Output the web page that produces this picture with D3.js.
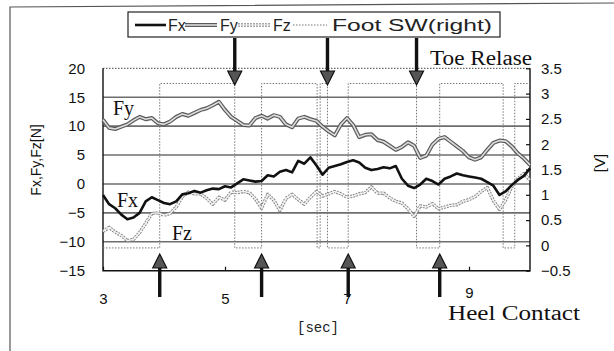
<!DOCTYPE html>
<html>
<head>
<meta charset="utf-8">
<script src="https://cdn.jsdelivr.net/npm/d3@7"></script>
<style>
  body { margin: 0; background: #fff; }
  svg { display: block; }
</style>
</head>
<body>
<svg id="chart" width="614" height="351"></svg>
<script>
// sampled every 0.1 s
const time = [3.0, 3.1, 3.2, 3.3, 3.4, 3.5, 3.6, 3.7, 3.8, 3.9,
  4.0, 4.1, 4.2, 4.3, 4.4, 4.5, 4.6, 4.7, 4.8, 4.9,
  5.0, 5.1, 5.2, 5.3, 5.4, 5.5, 5.6, 5.7, 5.8, 5.9,
  6.0, 6.1, 6.2, 6.3, 6.4, 6.5, 6.6, 6.7, 6.8, 6.9,
  7.0, 7.1, 7.2, 7.3, 7.4, 7.5, 7.6, 7.7, 7.8, 7.9,
  8.0, 8.1, 8.2, 8.3, 8.4, 8.5, 8.6, 8.7, 8.8, 8.9,
  9.0, 9.1, 9.2, 9.3, 9.4, 9.5, 9.6, 9.7, 9.8, 9.9,
  10.0];

const fx = [-1.9, -3.5, -4.2, -5.3, -6.1, -5.8, -5.0, -3.0, -2.3, -2.8,
  -3.3, -3.5, -3.0, -1.8, -1.6, -1.2, -1.5, -1.1, -0.8, -0.9,
  -0.4, -0.6, 0.1, 0.8, 0.6, 0.4, 0.5, 1.5, 1.3, 2.1,
  2.4, 2.0, 4.0, 3.5, 4.6, 3.2, 1.6, 2.8, 3.1, 3.4,
  3.8, 4.1, 3.7, 2.8, 2.4, 2.6, 2.9, 2.7, 3.1, 0.9,
  -0.3, -0.7, -0.1, 0.9, 0.5, -0.1, 0.9, 1.3, 1.8, 1.5,
  1.3, 1.1, 0.9, 0.3, -0.3, -1.9, -1.3, -0.2, 0.7, 1.4,
  2.7];

const fy = [11.1, 9.7, 9.5, 9.9, 10.3, 11.0, 11.6, 11.2, 11.4, 10.5,
  10.3, 10.8, 11.6, 12.1, 11.8, 12.3, 12.8, 13.1, 13.6, 14.2,
  12.8, 11.6, 10.9, 10.2, 10.1, 11.4, 11.8, 11.3, 11.9, 11.6,
  10.3, 9.8, 11.3, 11.6, 11.2, 10.9, 9.9, 9.1, 8.4, 10.3,
  11.4, 10.2, 8.1, 8.5, 8.6, 7.6, 7.3, 6.6, 5.9, 6.4,
  7.2, 6.6, 4.5, 4.9, 6.8, 7.8, 8.1, 7.3, 6.5, 5.7,
  4.6, 4.2, 4.6, 5.9, 7.1, 7.5, 7.4, 6.5, 5.3, 4.4,
  3.3];

const fz = [-8.2, -7.5, -8.3, -8.9, -9.8, -9.6, -8.4, -6.8, -5.1, -5.0,
  -5.4, -5.1, -4.0, -2.2, -1.4, -1.7, -1.7, -2.5, -3.5, -2.3,
  -2.8, -1.4, -1.5, -1.3, -1.5, -2.6, -4.2, -1.8, -2.8, -4.6,
  -2.5, -1.8, -2.7, -3.5, -2.3, -1.3, -2.1, -1.7, -1.3, -1.7,
  -2.3, -2.1, -1.7, -1.5, -0.5, -1.6, -1.6, -2.4, -3.0, -3.3,
  -4.3, -5.6, -3.8, -4.0, -3.4, -4.3, -4.0, -3.7, -3.6, -3.0,
  -2.7, -2.2, -1.3, -0.6, -2.9, -4.4, -2.8, -0.5, 0.9, 1.8,
  0.7];

// foot switch (right), volts, step signal
const swTime = [3.00, 3.93, 3.93, 5.16, 5.16, 5.60, 5.60, 6.51, 6.51, 6.56, 6.56, 6.68,
  6.68, 7.02, 7.02, 8.14, 8.14, 8.52, 8.52, 9.56, 9.56, 9.75, 9.75, 10.00];
const swVolt = [-0.05, -0.05, 3.2, 3.2, -0.05, -0.05, 3.2, 3.2, -0.05, -0.05, 3.2, 3.2,
  -0.05, -0.05, 3.2, 3.2, -0.05, -0.05, 3.2, 3.2, -0.05, -0.05, 3.2, 3.2];

const toeRelease = [5.16, 6.68, 8.14];
const heelContact = [3.93, 5.60, 7.02, 8.52];

const forceTicks = [-15, -10, -5, 0, 5, 10, 15, 20];
const gridTicks = [-10, -5, 0, 5, 10, 15];
const voltTicks = [-0.5, 0, 0.5, 1, 1.5, 2, 2.5, 3, 3.5];
const timeTicks = [3, 5, 7, 9];
const seriesNames = ['Fx', 'Fy', 'Fz', 'Foot SW(right)'];

const svg = d3.select('#chart');
const sans = 'Liberation Sans, Arial, sans-serif';
const serif = 'Liberation Serif, Times New Roman, serif';

const x = d3.scaleLinear().domain([3, 10]).range([103, 530]);
const y = d3.scaleLinear().domain([-15, 20]).range([270.7, 68.3]);
const yv = d3.scaleLinear().domain([-0.5, 3.5]).range([270.7, 68.3]);

// figure border (left + top only)
svg.append('path')
    .attr('d', 'M10,351 L10,7 L614,3')
    .attr('fill', 'none')
    .attr('stroke', '#555')
    .attr('stroke-width', 1.2);

// grid
svg.append('g').selectAll('line')
    .data(gridTicks)
  .enter().append('line')
    .attr('x1', x(3)).attr('x2', x(10))
    .attr('y1', d => y(d)).attr('y2', d => y(d))
    .attr('stroke', '#6e6e6e')
    .attr('stroke-width', 1.6);

// frame
svg.append('line')
    .attr('x1', x(3)).attr('x2', x(10))
    .attr('y1', y(20)).attr('y2', y(20))
    .attr('stroke', '#444').attr('stroke-width', 1)
    .attr('stroke-dasharray', '1.5,1.5');
svg.append('path')
    .attr('d', `M${x(3)},${y(20)} V${y(-15)} H${x(10)} V${y(20)}`)
    .attr('fill', 'none')
    .attr('stroke', '#111')
    .attr('stroke-width', 1.4);

// axes
const leftAxis = svg.append('g')
    .attr('transform', `translate(${x(3)},0)`)
    .call(d3.axisLeft(y).tickValues(forceTicks).tickSize(0).tickPadding(18));
const rightAxis = svg.append('g')
    .attr('transform', `translate(${x(10)},0)`)
    .call(d3.axisRight(yv).tickValues(voltTicks).tickSizeInner(-4).tickSizeOuter(0)
      .tickPadding(11).tickFormat(d3.format('')));
const bottomAxis = svg.append('g')
    .attr('transform', `translate(0,${y(-15)})`)
    .call(d3.axisBottom(x).tickValues(timeTicks).tickSizeInner(-4).tickSizeOuter(0)
      .tickPadding(23).tickFormat(d3.format('d')));

[leftAxis, rightAxis, bottomAxis].forEach(g => {
  g.select('.domain').remove();
  g.selectAll('line').attr('stroke', '#111').attr('stroke-width', 1.2);
  g.selectAll('text')
      .attr('fill', '#111')
      .style('font-family', sans)
      .style('font-size', '15px');
});
bottomAxis.selectAll('.tick text').filter(d => d === 9).attr('y', 17);

// axis titles
svg.append('text')
    .attr('transform', 'translate(41,160) rotate(-90)')
    .attr('text-anchor', 'middle')
    .style('font-family', sans).style('font-size', '14px')
    .attr('fill', '#111')
    .text('Fx,Fy,Fz[N]');
svg.append('text')
    .attr('transform', 'translate(605,163) rotate(-90)')
    .attr('text-anchor', 'middle')
    .style('font-family', sans).style('font-size', '15px')
    .attr('fill', '#111')
    .text('[V]');
svg.append('text')
    .attr('x', 318).attr('y', 332)
    .attr('text-anchor', 'middle')
    .style('font-family', 'Liberation Mono, monospace').style('font-size', '14px')
    .attr('fill', '#222')
    .text('[sec]');

// series
const line = d3.line().x((d, i) => x(time[i])).y(d => y(d));
const swLine = d3.line().x((d, i) => x(swTime[i])).y(d => yv(d));

const plot = svg.append('g');

plot.append('path').datum(swVolt)
    .attr('d', swLine)
    .attr('fill', 'none')
    .attr('stroke', '#777')
    .attr('stroke-width', 1)
    .attr('stroke-dasharray', '1.5,1.5');

function hollow(data, outer, width, inner, innerWidth, dash) {
  plot.append('path').datum(data)
      .attr('d', line)
      .attr('fill', 'none')
      .attr('stroke', outer)
      .attr('stroke-width', width)
      .attr('stroke-linejoin', 'round')
      .attr('stroke-dasharray', dash);
  plot.append('path').datum(data)
      .attr('d', line)
      .attr('fill', 'none')
      .attr('stroke', inner)
      .attr('stroke-width', innerWidth)
      .attr('stroke-linejoin', 'round');
}

hollow(fz, '#8a8a8a', 3.4, '#f4f4f4', 1.3, '2,1');
hollow(fy, '#5a5a5a', 4, '#dcdcdc', 1.6, null);

plot.append('path').datum(fx)
    .attr('d', line)
    .attr('fill', 'none')
    .attr('stroke', '#111')
    .attr('stroke-width', 2.6)
    .attr('stroke-linejoin', 'round');

// series labels
const labels = [
  {t: 'Fy', x: 113, y: 115},
  {t: 'Fx', x: 117, y: 207},
  {t: 'Fz', x: 172, y: 240}
];
svg.append('g').selectAll('text')
    .data(labels)
  .enter().append('text')
    .attr('x', d => d.x).attr('y', d => d.y)
    .style('font-family', serif).style('font-size', '20px')
    .attr('fill', '#111')
    .text(d => d.t);

// arrows
const arrowG = svg.append('g');
toeRelease.forEach(t => {
  const cx = x(t);
  arrowG.append('rect')
      .attr('x', cx - 1.7).attr('y', 38).attr('width', 3.4).attr('height', 34)
      .attr('fill', '#111');
  arrowG.append('path')
      .attr('d', `M${cx - 7},${71} L${cx + 7},${71} L${cx},${85} Z`)
      .attr('fill', '#555').attr('stroke', '#111').attr('stroke-width', 1.2);
});
heelContact.forEach(t => {
  const cx = x(t);
  arrowG.append('rect')
      .attr('x', cx - 1.7).attr('y', 267).attr('width', 3.4).attr('height', 30)
      .attr('fill', '#111');
  arrowG.append('path')
      .attr('d', `M${cx - 7},${268} L${cx + 7},${268} L${cx},${254} Z`)
      .attr('fill', '#555').attr('stroke', '#111').attr('stroke-width', 1.2);
});

svg.append('text')
    .attr('x', 430).attr('y', 65)
    .attr('textLength', 102).attr('lengthAdjust', 'spacingAndGlyphs')
    .style('font-family', serif).style('font-size', '20px')
    .attr('fill', '#111')
    .text('Toe Relase');
svg.append('text')
    .attr('x', 448).attr('y', 320)
    .attr('textLength', 132).attr('lengthAdjust', 'spacingAndGlyphs')
    .style('font-family', serif).style('font-size', '20px')
    .attr('fill', '#111')
    .text('Heel Contact');

// legend
const legend = svg.append('g');
legend.append('rect')
    .attr('x', 128).attr('y', 12).attr('width', 372).attr('height', 25)
    .attr('fill', '#fff').attr('stroke', '#222').attr('stroke-width', 1.2);

const legendItems = [
  {x0: 135, x1: 166, tx: 168},
  {x0: 185, x1: 217, tx: 220},
  {x0: 238, x1: 270, tx: 273},
  {x0: 293, x1: 327, tx: 332}
];
const ly = 25;
// Fx sample
legend.append('line').attr('x1', legendItems[0].x0).attr('x2', legendItems[0].x1)
    .attr('y1', ly).attr('y2', ly).attr('stroke', '#111').attr('stroke-width', 2.6);
// Fy sample
legend.append('line').attr('x1', legendItems[1].x0).attr('x2', legendItems[1].x1)
    .attr('y1', ly).attr('y2', ly).attr('stroke', '#5a5a5a').attr('stroke-width', 4);
legend.append('line').attr('x1', legendItems[1].x0).attr('x2', legendItems[1].x1)
    .attr('y1', ly).attr('y2', ly).attr('stroke', '#dcdcdc').attr('stroke-width', 1.6);
// Fz sample
legend.append('line').attr('x1', legendItems[2].x0).attr('x2', legendItems[2].x1)
    .attr('y1', ly).attr('y2', ly).attr('stroke', '#8a8a8a').attr('stroke-width', 3.4)
    .attr('stroke-dasharray', '2,1');
legend.append('line').attr('x1', legendItems[2].x0).attr('x2', legendItems[2].x1)
    .attr('y1', ly).attr('y2', ly).attr('stroke', '#f4f4f4').attr('stroke-width', 1.3);
// Foot SW sample
legend.append('line').attr('x1', legendItems[3].x0).attr('x2', legendItems[3].x1)
    .attr('y1', ly).attr('y2', ly).attr('stroke', '#777').attr('stroke-width', 1)
    .attr('stroke-dasharray', '1.5,1.5');

const legendText = legend.selectAll('text.lbl')
    .data(seriesNames)
  .enter().append('text')
    .attr('class', 'lbl')
    .attr('x', (d, i) => legendItems[i].tx)
    .attr('y', 30.5)
    .style('font-family', sans).style('font-size', '16px')
    .attr('fill', '#222')
    .text(d => d);
// the scanned legend label is drawn wide
legendText.filter((d, i) => i === 3)
    .attr('textLength', 160)
    .attr('lengthAdjust', 'spacingAndGlyphs');
</script>
</body>
</html>
